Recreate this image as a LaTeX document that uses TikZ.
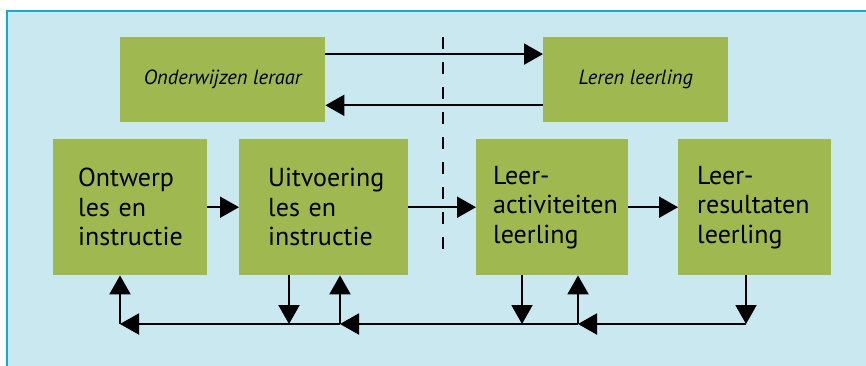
\documentclass[tikz,border=0pt]{standalone}
\usepackage{fontspec}
\setmainfont{PT Sans}
\usetikzlibrary{arrows.meta,calc}
\definecolor{bgblue}{HTML}{C9E8F0}
\definecolor{framecyan}{HTML}{10AFD0}
\definecolor{boxgreen}{HTML}{9FB84F}
\begin{document}
\begin{tikzpicture}[x=1pt,y=-1pt,
  topbox/.style={fill=boxgreen, draw=none, minimum height=85pt, inner sep=0pt, font=\fontsize{20.5}{24}\selectfont\itshape, anchor=north west},
  bigbox/.style={fill=boxgreen, draw=none, minimum height=136pt, inner ysep=0pt, align=left, font=\fontsize{26}{29.5}\selectfont, anchor=north west},
  arr/.style={-{Triangle[length=19pt,width=21pt]}, line width=2pt},
  divider/.style={line width=1.2pt, dash pattern=on 12pt off 13pt}]
\useasboundingbox (0,0) rectangle (866,365);
\clip (0,0) rectangle (866,365);
\fill[bgblue] (7,11) rectangle (880,380);
\draw[framecyan, line width=2.6pt] (7,380) -- (7,11) -- (880,11);

\node[topbox, minimum width=205pt] (t1) at (120,37) {Onderwijzen leraar};
\node[topbox, minimum width=185pt] (t2) at (543,37) {Leren leerling};

\node[bigbox, inner xsep=25pt, text width=104pt] (A) at (53,139) {Ontwerp\\les en\\instructie\par\vspace*{9pt}};
\node[bigbox, inner xsep=29pt, text width=111pt] (B) at (239,139) {Uitvoering\\les en\\instructie\par\vspace*{9pt}};
\node[bigbox, inner xsep=17pt, text width=118pt] (C) at (476,139) {Leer-\\activiteiten\\leerling\par\vspace*{9pt}};
\node[bigbox, inner xsep=19pt, text width=115pt] (D) at (678,139) {Leer-\\resultaten\\leerling\par\vspace*{9pt}};

\coordinate (dtop) at (443,37);
\coordinate (dbot) at (443,257);
\draw[divider] (dtop) -- (dbot);

\draw[arr] ($(t1.north east)!0.2!(t1.south east)$) -- ($(t2.north west)!0.2!(t2.south west)$);
\draw[arr] ($(t2.north west)!0.8!(t2.south west)$) -- ($(t1.north east)!0.8!(t1.south east)$);

\draw[arr] (A.east) -- (B.west);
\draw[arr] (B.east) -- (C.west);
\draw[arr] (C.east) -- (D.west);

\coordinate (b1) at (120,324);
\coordinate (b2) at (289,324);
\coordinate (b3) at (340,324);
\coordinate (b4) at (522,324);
\coordinate (b5) at (578,324);
\coordinate (b6) at (746,324);

\draw[arr] (b1) -- (b1 |- A.south);
\draw[arr] (b2 |- B.south) -- (b2);
\draw[arr] (b3) -- (b3 |- B.south);
\draw[arr] (b4 |- C.south) -- (b4);
\draw[arr] (b5) -- (b5 |- C.south);
\draw[arr] (b6 |- D.south) -- (b6);
\draw[arr] (b6) -- (b5);
\draw[arr] (b5) -- (b3);
\draw[arr] (b3) -- (b1);
\end{tikzpicture}
\end{document}
